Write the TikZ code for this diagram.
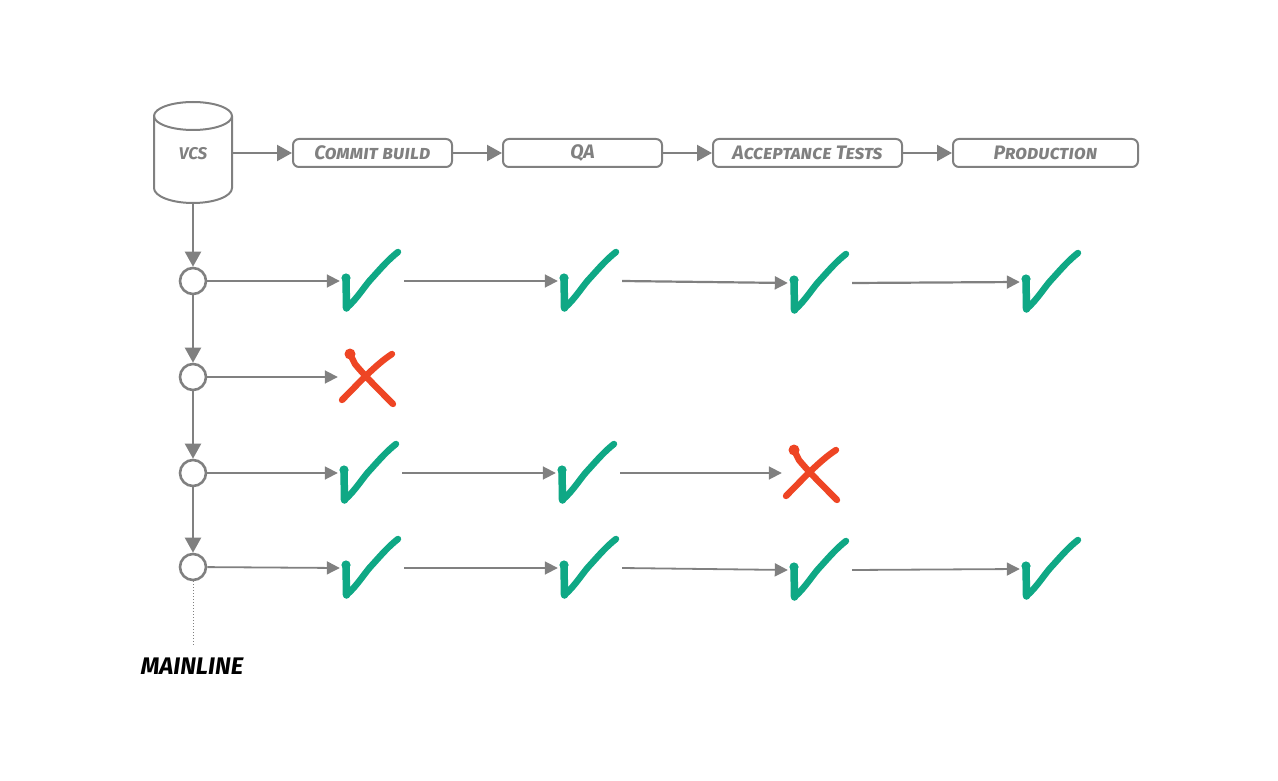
\documentclass[tikz,border=0pt]{standalone}
\usepackage{fontspec}
\setmainfont{Fira Sans}
\usetikzlibrary{arrows.meta}
\definecolor{linegray}{HTML}{808080}
\definecolor{okgreen}{HTML}{0FA885}
\definecolor{failred}{HTML}{EE4524}
\newcommand{\hand}[1]{\fontsize{19.5}{19.5}\selectfont\bfseries\itshape\scshape #1}
\tikzset{
  x=1pt,y=-1pt,
  box/.style={draw=linegray,line width=2pt,rounded corners=6pt,minimum height=28pt,inner sep=0pt,text=linegray,font=\hand},
  ring/.style={circle,draw=linegray,line width=2.6pt,minimum size=26pt,inner sep=0pt},
  slot/.style={inner sep=0pt,minimum width=64pt,minimum height=64pt},
  xslot/.style={inner sep=0pt,minimum width=62pt,minimum height=60pt},
  big/.style={draw=linegray,line width=2.2pt,-{Triangle[length=15pt,width=16pt]}},
  small/.style={draw=linegray,line width=1.8pt,-{Triangle[length=13pt,width=13pt]}},
  tick/.pic={
     \draw[okgreen,line width=7.5pt,line cap=round] (-26,-3) -- (-25.5,27);
     \draw[okgreen,line width=6.5pt,line cap=round,line join=round]
       (-25.5,27) .. controls (-14,17) and (-7,4) .. (1,-4) .. controls (10,-14) and (17,-22) .. (26,-29);
     \fill[okgreen] (-26,-3) circle (4.6pt);},
  cross/.pic={\draw[failred,line width=6.4pt,line cap=round,line join=round]
     (-19,-23) -- (-14,-13) .. controls (-6,-3) and (10,13) .. (24,27)
     (-27,23) .. controls (-12,8) and (6,-12) .. (23,-23);
     \fill[failred] (-19,-23) circle (5.5pt);},
}
\begin{document}
\begin{tikzpicture}
\useasboundingbox (0,0) rectangle (1278,781);
% pipeline
\node[inner sep=0pt,minimum width=78pt,minimum height=101pt] (vcs) at (193,153) {};
\draw[linegray,line width=2pt,line join=round] (154,116) arc[start angle=180,end angle=360,x radius=39,y radius=14]
  -- (232,188) arc[start angle=0,end angle=180,x radius=39,y radius=15] -- cycle;
\draw[linegray,line width=2pt] (154,116) arc[start angle=180,end angle=0,x radius=39,y radius=14];
\node[text=linegray,inner sep=0pt,font=\fontsize{17}{17}\selectfont\bfseries\itshape] (vcslabel) at (193,154) {VCS};
\node[box,minimum width=159pt] (commit) at (372.5,153) {Commit build};
\node[box,minimum width=159pt] (qa) at (582.5,153) {QA};
\node[box,minimum width=189pt] (accept) at (807.5,153) {Acceptance Tests};
\node[box,minimum width=185pt] (prod) at (1045.5,153) {Production};
\draw[big] (vcs.east) -- (commit.west);
\draw[big] (commit) -- (qa);
\draw[big] (qa) -- (accept);
\draw[big] (accept) -- (prod);
% mainline
\node[ring] (c1) at (193,281) {};
\node[ring] (c2) at (193,377) {};
\node[ring] (c3) at (193,473) {};
\node[ring] (c4) at (193,567) {};
\draw[big] (vcs.south) -- (c1.north);
\draw[big] (c1) -- (c2);
\draw[big] (c2) -- (c3);
\draw[big] (c3) -- (c4);
\coordinate (mainend) at (193,646);
\draw[linegray,line width=1pt,dotted] (c4.south) -- (mainend);
\node[text=black,inner sep=0pt,font=\fontsize{24}{24}\selectfont\bfseries\itshape] (mainline) at (192,666) {MAINLINE};
% row 1
\node[slot] (a1) at (372,281) {}; \pic at (a1) {tick};
\node[slot] (a2) at (590,281) {}; \pic at (a2) {tick};
\node[slot] (a3) at (820,283) {}; \pic at (a3) {tick};
\node[slot] (a4) at (1052,282) {}; \pic at (a4) {tick};
\draw[small] (c1) -- (a1.west);
\draw[small] (a1.east) -- (a2.west);
\draw[small,line width=2.2pt] (a2.east) -- (a3.west);
\draw[small,line width=2.2pt] (a3.east) -- (a4.west);
% row 2
\node[xslot] (b1) at (369,377) {}; \pic at (b1) {cross};
\draw[small] (c2) -- (b1.west);
% row 3
\node[slot] (d1) at (370,473) {}; \pic at (d1) {tick};
\node[slot] (d2) at (588,473) {}; \pic at (d2) {tick};
\node[xslot] (d3) at (813,473) {}; \pic at (d3) {cross};
\draw[small] (c3) -- (d1.west);
\draw[small] (d1.east) -- (d2.west);
\draw[small] (d2.east) -- (d3.west);
% row 4
\node[slot] (e1) at (372,568) {}; \pic at (e1) {tick};
\node[slot] (e2) at (590,568) {}; \pic at (e2) {tick};
\node[slot] (e3) at (820,570) {}; \pic at (e3) {tick};
\node[slot] (e4) at (1052,569) {}; \pic at (e4) {tick};
\draw[small] (c4) -- (e1.west);
\draw[small] (e1.east) -- (e2.west);
\draw[small] (e2.east) -- (e3.west);
\draw[small] (e3.east) -- (e4.west);
\end{tikzpicture}
\end{document}
